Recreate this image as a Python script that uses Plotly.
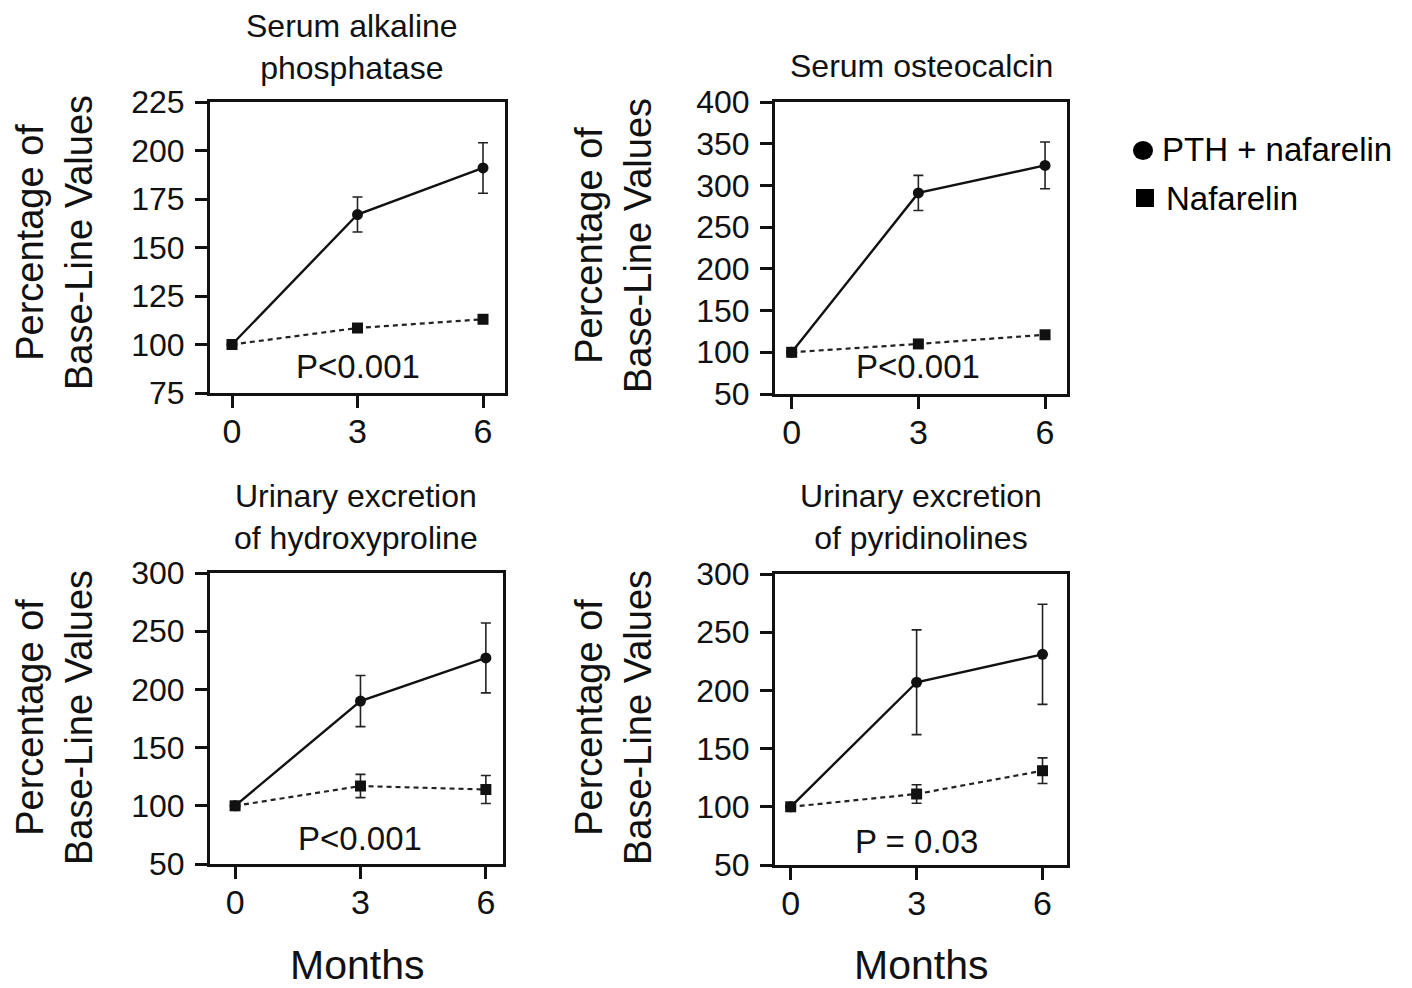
import plotly.graph_objects as go

# page body has an 8px margin: draw in a figure that fills the rest of the window
OFF = 8
W, H = 1412 - OFF, 988 - OFF

# ---- data ----
months = [0, 3, 6]
titles = ["Serum alkaline<br>phosphatase", "Serum osteocalcin",
          "Urinary excretion<br>of hydroxyproline", "Urinary excretion<br>of pyridinolines"]

pth_alk = [100, 167, 191]
pth_alk_err = [0, 9, 13]
naf_alk = [100, 108.5, 113]
naf_alk_err = [0, 0, 0]

pth_ost = [100, 291, 324]
pth_ost_err = [0, 21, 28]
naf_ost = [100, 110, 121]
naf_ost_err = [0, 0, 0]

pth_hyp = [100, 190, 227]
pth_hyp_err = [0, 22, 30]
naf_hyp = [100, 117, 114]
naf_hyp_err = [0, 10, 12]

pth_pyr = [100, 207, 231]
pth_pyr_err = [0, 45, 43]
naf_pyr = [100, 111, 131]
naf_pyr_err = [0, 8, 11]

p_texts = ["P<0.001", "P<0.001", "P<0.001", "P = 0.03"]
p_text_y = [88.6, 83, 71.5, 70.6]

yticks_alk = [75, 100, 125, 150, 175, 200, 225]
yticks_ost = [50, 100, 150, 200, 250, 300, 350, 400]
yticks_uri = [50, 100, 150, 200, 250, 300]
xtick_labels = ["0", "3", "6"]

legend_labels = ["PTH + nafarelin", "Nafarelin"]

# ---- layout geometry (window pixels) ----
FONT = "Liberation Sans, Arial, Helvetica, sans-serif"
boxes = [  # left, right, top, bottom in px
    (210, 505, 102, 393),
    (775, 1067, 102, 394),
    (210, 503, 573, 864),
    (775, 1067, 574, 865),
]
xranges = [[-0.526, 6.526], [-0.395, 6.52], [-0.6, 6.41], [-0.374, 6.583]]
yranges = [[75, 225], [50, 400], [50, 300], [50, 300]]
yticks = [yticks_alk, yticks_ost, yticks_uri, yticks_uri]

series = [
    (pth_alk, pth_alk_err, naf_alk, naf_alk_err),
    (pth_ost, pth_ost_err, naf_ost, naf_ost_err),
    (pth_hyp, pth_hyp_err, naf_hyp, naf_hyp_err),
    (pth_pyr, pth_pyr_err, naf_pyr, naf_pyr_err),
]

def px(x):
    return (x - OFF) / W

def py(y):
    return 1 - (y - OFF) / H

fig = go.Figure()
layout = dict(
    width=W, height=H, margin=dict(l=0, r=0, t=0, b=0, autoexpand=False),
    paper_bgcolor="white", plot_bgcolor="white", showlegend=False,
    font=dict(family=FONT, color="#111"),
)

annotations = []
shapes = []
for i in range(4):
    ax = "" if i == 0 else str(i + 1)
    l, r, t, b = boxes[i]
    pth, pth_e, naf, naf_e = series[i]
    fig.add_trace(go.Scatter(
        x=months, y=pth, mode="lines+markers", name=legend_labels[0],
        xaxis="x" + ax, yaxis="y" + ax,
        line=dict(color="#111", width=2.4),
        marker=dict(symbol="circle", size=11, color="#111"),
        error_y=dict(type="data", array=pth_e, visible=True, color="#222",
                     thickness=1.6, width=5),
    ))
    fig.add_trace(go.Scatter(
        x=months, y=naf, mode="lines+markers", name=legend_labels[1],
        xaxis="x" + ax, yaxis="y" + ax,
        line=dict(color="#222", width=2.2, dash="5px,4px"),
        marker=dict(symbol="square", size=11, color="#111"),
        error_y=dict(type="data", array=naf_e, visible=True, color="#222",
                     thickness=1.6, width=5),
    ))
    layout["xaxis" + ax] = dict(
        domain=[px(l), px(r)], anchor="y" + ax, range=xranges[i],
        tickvals=months, ticktext=xtick_labels, automargin=False,
        ticks="outside", ticklen=12, tickwidth=2.5, tickcolor="#111",
        showline=True, linewidth=3, linecolor="#111", mirror=True,
        showgrid=False, zeroline=False,
        tickfont=dict(size=34, family=FONT, color="#111"),
        ticklabelstandoff=-6,
    )
    layout["yaxis" + ax] = dict(
        domain=[py(b), py(t)], anchor="x" + ax, range=yranges[i],
        tickvals=yticks[i], automargin=False,
        ticks="outside", ticklen=12, tickwidth=2.5, tickcolor="#111",
        showline=True, linewidth=3, linecolor="#111", mirror=True,
        showgrid=False, zeroline=False,
        tickfont=dict(size=32, family=FONT, color="#111"),
        ticklabelstandoff=4,
    )
    # p-value text
    annotations.append(dict(
        x=3, y=p_text_y[i], xref="x" + ax, yref="y" + ax, text=p_texts[i],
        showarrow=False, font=dict(size=33, family=FONT, color="#111"),
        xanchor="center", yanchor="middle",
    ))

# panel titles
title_pos = [(352, 47), (921, 66), (356, 517), (921, 517)]
for i, (tx, ty) in enumerate(title_pos):
    annotations.append(dict(
        x=px(tx), y=py(ty), xref="paper", yref="paper", text=titles[i],
        showarrow=False, font=dict(size=32, family=FONT, color="#111"),
        xanchor="center", yanchor="middle",
    ))

# y-axis titles
ytitle_pos = [(54, 243), (613, 246), (54, 718), (613, 718)]
for tx, ty in ytitle_pos:
    annotations.append(dict(
        x=px(tx), y=py(ty), xref="paper", yref="paper",
        text="Percentage of<br>Base-Line Values", textangle=-90,
        showarrow=False, font=dict(size=38, family=FONT, color="#111"),
        xanchor="center", yanchor="middle",
    ))

# x-axis titles
for tx in (357, 921):
    annotations.append(dict(
        x=px(tx), y=py(965), xref="paper", yref="paper", text="Months",
        showarrow=False, font=dict(size=41, family=FONT, color="#111"),
        xanchor="center", yanchor="middle",
    ))

# legend (glyphs + labels)
shapes.append(dict(type="circle", xref="paper", yref="paper",
                   x0=px(1133), x1=px(1153), y0=py(160), y1=py(141),
                   fillcolor="black", line=dict(width=0)))
shapes.append(dict(type="rect", xref="paper", yref="paper",
                   x0=px(1136), x1=px(1154), y0=py(207), y1=py(189),
                   fillcolor="black", line=dict(width=0)))
annotations.append(dict(
    x=px(1160), y=py(149), xref="paper", yref="paper",
    text=legend_labels[0], showarrow=False,
    font=dict(size=33, family="Liberation Sans, Arial", color="black"),
    xanchor="left", yanchor="middle",
))
annotations.append(dict(
    x=px(1164), y=py(198), xref="paper", yref="paper",
    text=legend_labels[1], showarrow=False,
    font=dict(size=33, family="Liberation Sans, Arial", color="black"),
    xanchor="left", yanchor="middle",
))

layout["annotations"] = annotations
layout["shapes"] = shapes
fig.update_layout(**layout)
fig.write_html("out.html")
